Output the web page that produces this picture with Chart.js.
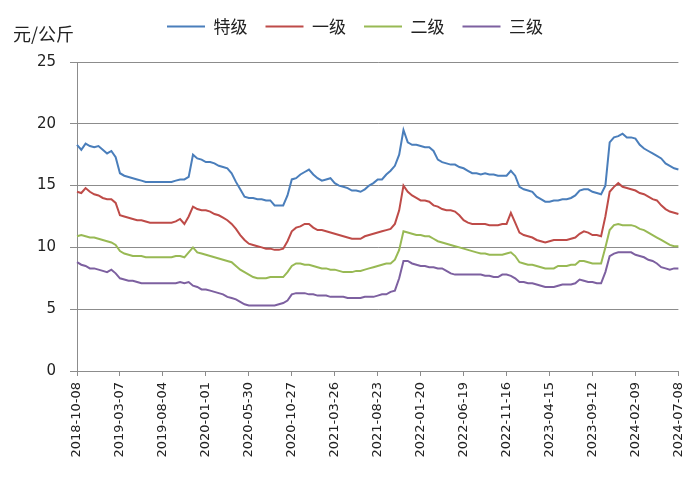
<!DOCTYPE html>
<html>
<head>
<meta charset="utf-8">
<script src="https://cdn.jsdelivr.net/npm/chart.js@4.4.1/dist/chart.umd.min.js"></script>
<style>
  html, body { margin: 0; padding: 0; background: #fff; }
  #wrap { position: relative; width: 700px; height: 486px; }
  #unit { position: absolute; left: 13px; top: 24px; font: 18px/18px "Noto Sans CJK SC", sans-serif; color: #222; }
</style>
</head>
<body>
<div id="wrap">
  <canvas id="priceChart" width="700" height="486"></canvas>
  <div id="unit">元/公斤</div>
</div>
<script>
// sampled every 15 days from 2018-10-08, labels every 150 days
const startDate = [2018, 9, 8];
const stepDays = 15;
const labelEvery = 10;

const seriesNames = ["特级", "一级", "二级", "三级"];
const seriesColors = ["#4A7EBB", "#BE4B48", "#98B954", "#7D60A0"];

const gradeSpecial = [
  18.3, 17.9, 18.4, 18.2, 18.1, 18.2, 17.9, 17.6, 17.8, 17.3,
  16.0, 15.8, 15.7, 15.6, 15.5, 15.4, 15.3, 15.3, 15.3, 15.3,
  15.3, 15.3, 15.3, 15.4, 15.5, 15.5, 15.7, 17.5, 17.2, 17.1,
  16.9, 16.9, 16.8, 16.6, 16.5, 16.4, 16.0, 15.3, 14.7, 14.1,
  14.0, 14.0, 13.9, 13.9, 13.8, 13.8, 13.4, 13.4, 13.4, 14.2,
  15.5, 15.6, 15.9, 16.1, 16.3, 15.9, 15.6, 15.4, 15.5, 15.6,
  15.2, 15.0, 14.9, 14.8, 14.6, 14.6, 14.5, 14.7, 15.0, 15.2,
  15.5, 15.5, 15.9, 16.2, 16.6, 17.5, 19.5, 18.5, 18.3, 18.3,
  18.2, 18.1, 18.1, 17.8, 17.1, 16.9, 16.8, 16.7, 16.7, 16.5,
  16.4, 16.2, 16.0, 16.0, 15.9, 16.0, 15.9, 15.9, 15.8, 15.8,
  15.8, 16.2, 15.8, 14.9, 14.7, 14.6, 14.5, 14.1, 13.9, 13.7,
  13.7, 13.8, 13.8, 13.9, 13.9, 14.0, 14.2, 14.6, 14.7, 14.7,
  14.5, 14.4, 14.3, 15.0, 18.5, 18.9, 19.0, 19.2, 18.9, 18.9,
  18.8, 18.3, 18.0, 17.8, 17.6, 17.4, 17.2, 16.8, 16.6, 16.4, 16.3
];

const gradeOne = [
  14.5, 14.4, 14.8, 14.5, 14.3, 14.2, 14.0, 13.9, 13.9, 13.6,
  12.6, 12.5, 12.4, 12.3, 12.2, 12.2, 12.1, 12.0, 12.0, 12.0,
  12.0, 12.0, 12.0, 12.1, 12.3, 11.9, 12.5, 13.3, 13.1, 13.0,
  13.0, 12.9, 12.7, 12.6, 12.4, 12.2, 11.9, 11.5, 11.0, 10.6,
  10.3, 10.2, 10.1, 10.0, 9.9, 9.9, 9.8, 9.8, 9.9, 10.5,
  11.3, 11.6, 11.7, 11.9, 11.9, 11.6, 11.4, 11.4, 11.3, 11.2,
  11.1, 11.0, 10.9, 10.8, 10.7, 10.7, 10.7, 10.9, 11.0, 11.1,
  11.2, 11.3, 11.4, 11.5, 11.9, 13.0, 15.0, 14.5, 14.2, 14.0,
  13.8, 13.8, 13.7, 13.4, 13.3, 13.1, 13.0, 13.0, 12.9, 12.6,
  12.2, 12.0, 11.9, 11.9, 11.9, 11.9, 11.8, 11.8, 11.8, 11.9,
  11.9, 12.8, 12.0, 11.2, 11.0, 10.9, 10.8, 10.6, 10.5, 10.4,
  10.5, 10.6, 10.6, 10.6, 10.6, 10.7, 10.8, 11.1, 11.3, 11.2,
  11.0, 11.0, 10.9, 12.5, 14.5, 14.9, 15.2, 14.9, 14.8, 14.7,
  14.6, 14.4, 14.3, 14.1, 13.9, 13.8, 13.4, 13.1, 12.9, 12.8, 12.7
];

const gradeTwo = [
  10.9, 11.0, 10.9, 10.8, 10.8, 10.7, 10.6, 10.5, 10.4, 10.2,
  9.7, 9.5, 9.4, 9.3, 9.3, 9.3, 9.2, 9.2, 9.2, 9.2,
  9.2, 9.2, 9.2, 9.3, 9.3, 9.2, 9.6, 10.0, 9.6, 9.5,
  9.4, 9.3, 9.2, 9.1, 9.0, 8.9, 8.8, 8.5, 8.2, 8.0,
  7.8, 7.6, 7.5, 7.5, 7.5, 7.6, 7.6, 7.6, 7.6, 8.0,
  8.5, 8.7, 8.7, 8.6, 8.6, 8.5, 8.4, 8.3, 8.3, 8.2,
  8.2, 8.1, 8.0, 8.0, 8.0, 8.1, 8.1, 8.2, 8.3, 8.4,
  8.5, 8.6, 8.7, 8.7, 9.0, 9.8, 11.3, 11.2, 11.1, 11.0,
  11.0, 10.9, 10.9, 10.7, 10.5, 10.4, 10.3, 10.2, 10.1, 10.0,
  9.9, 9.8, 9.7, 9.6, 9.5, 9.5, 9.4, 9.4, 9.4, 9.4,
  9.5, 9.6, 9.3, 8.8, 8.7, 8.6, 8.6, 8.5, 8.4, 8.3,
  8.3, 8.3, 8.5, 8.5, 8.5, 8.6, 8.6, 8.9, 8.9, 8.8,
  8.7, 8.7, 8.7, 10.0, 11.4, 11.8, 11.9, 11.8, 11.8, 11.8,
  11.7, 11.5, 11.4, 11.2, 11.0, 10.8, 10.6, 10.4, 10.2, 10.1, 10.1
];

const gradeThree = [
  8.8, 8.6, 8.5, 8.3, 8.3, 8.2, 8.1, 8.0, 8.2, 7.9,
  7.5, 7.4, 7.3, 7.3, 7.2, 7.1, 7.1, 7.1, 7.1, 7.1,
  7.1, 7.1, 7.1, 7.1, 7.2, 7.1, 7.2, 6.9, 6.8, 6.6,
  6.6, 6.5, 6.4, 6.3, 6.2, 6.0, 5.9, 5.8, 5.6, 5.4,
  5.3, 5.3, 5.3, 5.3, 5.3, 5.3, 5.3, 5.4, 5.5, 5.7,
  6.2, 6.3, 6.3, 6.3, 6.2, 6.2, 6.1, 6.1, 6.1, 6.0,
  6.0, 6.0, 6.0, 5.9, 5.9, 5.9, 5.9, 6.0, 6.0, 6.0,
  6.1, 6.2, 6.2, 6.4, 6.5, 7.5, 8.9, 8.9, 8.7, 8.6,
  8.5, 8.5, 8.4, 8.4, 8.3, 8.3, 8.1, 7.9, 7.8, 7.8,
  7.8, 7.8, 7.8, 7.8, 7.8, 7.7, 7.7, 7.6, 7.6, 7.8,
  7.8, 7.7, 7.5, 7.2, 7.2, 7.1, 7.1, 7.0, 6.9, 6.8,
  6.8, 6.8, 6.9, 7.0, 7.0, 7.0, 7.1, 7.4, 7.3, 7.2,
  7.2, 7.1, 7.1, 8.0, 9.3, 9.5, 9.6, 9.6, 9.6, 9.6,
  9.4, 9.3, 9.2, 9.0, 8.9, 8.7, 8.4, 8.3, 8.2, 8.3, 8.3
];

const yMin = 0;
const yMax = 25;
const yStep = 5;

function buildDates(count) {
  const t0 = Date.UTC(startDate[0], startDate[1], startDate[2]);
  const out = [];
  for (let i = 0; i < count; i++) {
    out.push(new Date(t0 + i * stepDays * 86400000).toISOString().slice(0, 10));
  }
  return out;
}

const dates = buildDates(gradeSpecial.length);
const allSeries = [gradeSpecial, gradeOne, gradeTwo, gradeThree];
const gridColor = "#8c8c8c";
const textColor = "#222";

// leave room between legend and plot top
const legendHeight = {
  id: "legendHeight",
  beforeInit(chart) {
    const fit = chart.legend.fit;
    chart.legend.fit = function () {
      fit.call(this);
      this.height = 62;
    };
  }
};

new Chart(document.getElementById("priceChart"), {
  type: "line",
  data: {
    labels: dates,
    datasets: allSeries.map((values, i) => ({
      label: seriesNames[i],
      data: values,
      borderColor: seriesColors[i],
      backgroundColor: seriesColors[i],
      borderWidth: 2,
      pointRadius: 0,
      tension: 0
    }))
  },
  plugins: [legendHeight],
  options: {
    responsive: false,
    animation: false,
    layout: { padding: { left: 29, right: 19, top: 0, bottom: 0 } },
    plugins: {
      tooltip: { enabled: false },
      legend: {
        position: "top",
        labels: {
          color: textColor,
          font: { family: "Noto Sans CJK SC", size: 17 },
          usePointStyle: true,
          pointStyle: "line",
          pointStyleWidth: 38,
          padding: 18
        }
      }
    },
    scales: {
      x: {
        afterFit(scale) { scale.height = 115; },
        grid: { display: true, drawOnChartArea: false, drawTicks: true, tickLength: 5, color: gridColor },
        border: { display: true, color: gridColor },
        ticks: {
          autoSkip: false,
          maxRotation: 90,
          minRotation: 90,
          padding: 6,
          color: textColor,
          font: { family: "DejaVu Sans", size: 13 },
          callback: function (value, index) {
            return index % labelEvery === 0 ? this.getLabelForValue(value) : null;
          }
        }
      },
      y: {
        min: yMin,
        max: yMax,
        afterFit(scale) { scale.width = 48; },
        grid: { color: gridColor, tickLength: 7 },
        border: { display: true, color: gridColor },
        ticks: {
          stepSize: yStep,
          color: textColor,
          font: { family: "DejaVu Sans", size: 15 },
          padding: 14
        }
      }
    }
  }
});
</script>
</body>
</html>
